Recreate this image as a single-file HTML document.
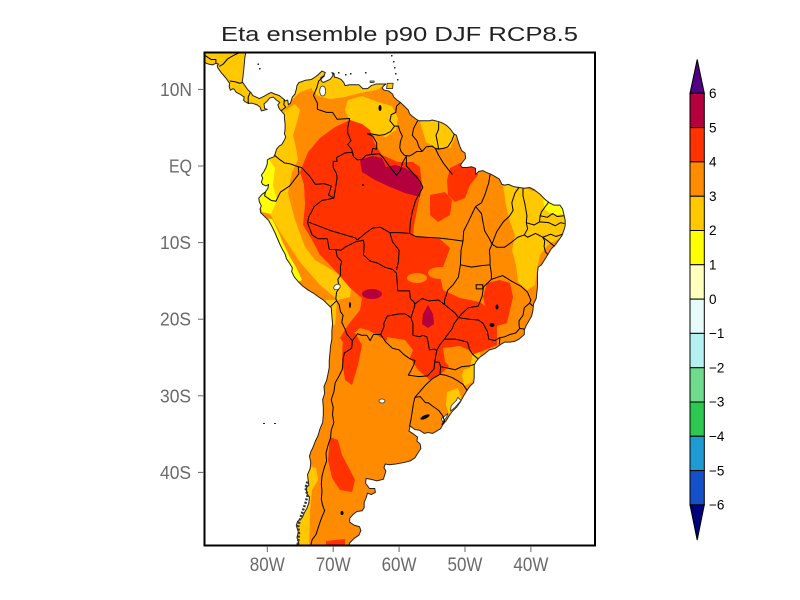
<!DOCTYPE html>
<html><head><meta charset="utf-8">
<style>
html,body{margin:0;padding:0;background:#fff;}
svg{display:block;}
path,polyline,polygon,ellipse,rect{vector-effect:non-scaling-stroke;}
text{font-family:"Liberation Sans",sans-serif;}
</style></head>
<body>
<svg width="800" height="600" viewBox="0 0 800 600" xmlns="http://www.w3.org/2000/svg">
<rect width="800" height="600" fill="#fff"/>
<defs>
<clipPath id="fr"><rect x="205" y="53" width="390" height="492"/></clipPath>
<clipPath id="ld"><path transform="matrix(6.59 0 0 -7.66 794.5 166)" d="M-91,16 L-83.2,16 -83.2,15.0 -83.4,14.2 -83.5,13.2 -83.6,12.4 -83.7,11.6 -83.8,11.0 -83.4,10.5 -83.0,10.0 -82.5,9.6 -82.2,9.2 -81.7,9.0 -81.2,8.8 -80.5,9.1 -79.9,9.4 -79.4,9.6 -78.9,9.4 -78.2,9.2 -77.6,8.8 -77.3,8.5 -76.9,8.6 -76.8,8.0 -76.5,8.2 -76.2,9.0 -75.8,9.4 -75.6,10.0 -75.5,10.5 -75.2,10.9 -74.8,11.0 -74.2,11.2 -73.3,11.3 -72.6,11.7 -72.2,12.0 -71.7,12.4 -71.2,12.2 -71.4,11.8 -71.9,11.5 -71.8,11.1 -71.5,10.9 -71.0,11.1 -70.5,11.3 -70.2,11.6 -70.0,11.9 -70.2,12.2 -69.9,12.1 -69.8,11.6 -69.3,11.5 -68.8,11.3 -68.4,10.9 -68.2,10.5 -67.5,10.6 -66.8,10.6 -66.1,10.6 -65.5,10.1 -64.8,10.1 -64.2,10.5 -63.5,10.7 -62.7,10.7 -62.0,10.7 -62.3,10.5 -62.6,10.2 -62.3,9.9 -61.6,9.8 -61.0,9.4 -60.8,9.0 -60.3,8.6 -59.8,8.3 -59.2,7.8 -58.6,7.3 -58.4,6.8 -58.0,6.5 -57.4,6.1 -57.0,5.9 -56.3,5.9 -55.4,5.9 -55.0,6.0 -54.0,5.8 -53.4,5.6 -52.8,5.3 -52.2,4.8 -51.7,4.2 -51.3,4.0 -51.1,3.4 -50.8,2.6 -50.5,2.0 -50.0,1.7 -49.9,1.0 -50.3,0.6 -50.7,0.1 -50.4,-0.2 -49.7,-0.2 -49.0,-0.1 -48.4,-0.3 -48.4,-1.1 -47.9,-0.7 -47.3,-0.6 -46.6,-0.9 -46.0,-1.1 -45.4,-1.4 -44.8,-1.7 -44.4,-2.4 -44.0,-2.5 -43.4,-2.4 -42.6,-2.7 -41.8,-2.8 -41.0,-2.9 -40.2,-2.8 -39.5,-3.1 -38.6,-3.7 -37.8,-4.4 -37.2,-4.8 -36.5,-5.1 -35.6,-5.1 -35.2,-5.6 -35.0,-6.3 -34.8,-7.1 -34.8,-7.8 -35.0,-8.4 -35.3,-9.1 -35.8,-9.7 -36.3,-10.3 -36.9,-10.8 -37.4,-11.5 -37.9,-12.2 -38.4,-12.9 -38.9,-13.2 -39.0,-14.0 -39.0,-14.8 -39.0,-15.7 -39.1,-16.5 -39.2,-17.3 -39.6,-18.0 -39.7,-18.9 -39.9,-19.6 -40.3,-20.2 -40.7,-20.8 -41.0,-21.4 -41.0,-22.0 -41.8,-22.6 -42.5,-22.9 -43.2,-23.0 -44.0,-23.0 -44.6,-23.3 -45.4,-23.8 -46.3,-24.0 -47.0,-24.5 -47.8,-25.0 -48.3,-25.5 -48.6,-26.0 -48.6,-26.8 -48.6,-27.6 -48.7,-28.3 -49.2,-28.7 -49.7,-29.3 -50.2,-30.0 -50.7,-30.8 -51.3,-31.5 -51.9,-32.0 -52.4,-32.6 -52.9,-33.3 -53.4,-33.8 -53.7,-34.3 -54.3,-34.6 -54.9,-34.9 -55.6,-34.8 -56.2,-34.9 -56.9,-34.5 -57.6,-34.4 -58.1,-34.1 -58.4,-33.9 -58.4,-34.2 -58.5,-34.6 -57.8,-35.0 -57.2,-35.4 -57.3,-35.9 -56.8,-36.3 -56.7,-36.9 -57.1,-37.4 -57.6,-38.1 -58.3,-38.5 -59.2,-38.7 -60.5,-38.9 -61.5,-39.0 -62.1,-38.9 -62.3,-39.4 -62.0,-39.8 -62.2,-40.4 -62.4,-40.9 -63.4,-41.1 -64.3,-40.9 -65.0,-40.8 -65.1,-41.4 -64.5,-42.1 -63.7,-42.1 -63.6,-42.6 -64.2,-42.9 -64.8,-42.7 -65.0,-43.3 -65.3,-43.9 -65.3,-44.6 -65.6,-45.0 -66.4,-45.1 -67.0,-45.5 -67.5,-46.0 -67.5,-46.5 -66.8,-46.9 -66.0,-47.1 -65.8,-47.6 -66.1,-48.2 -66.8,-48.6 -67.5,-49.2 -67.7,-49.8 -68.2,-50.2 -68.8,-51.0 -76,-51 -75.5,-50.0 -75.2,-49.3 -75.5,-48.5 -75.3,-47.8 -75.6,-46.9 -75.4,-46.4 -74.7,-45.9 -74.4,-45.3 -74.0,-44.7 -73.7,-44.0 -73.6,-43.2 -74.0,-42.8 -74.1,-42.0 -73.7,-41.7 -73.8,-41.0 -73.9,-40.3 -73.5,-39.5 -73.4,-38.7 -73.6,-37.9 -73.4,-37.3 -73.1,-36.8 -72.7,-35.9 -72.3,-35.2 -72.0,-34.3 -71.6,-33.5 -71.5,-32.5 -71.5,-31.5 -71.6,-30.5 -71.3,-29.7 -71.4,-28.8 -71.0,-28.0 -70.8,-27.2 -70.6,-26.3 -70.6,-25.4 -70.5,-24.5 -70.4,-23.5 -70.2,-22.6 -70.2,-21.5 -70.1,-20.6 -70.2,-19.6 -70.3,-18.5 -70.9,-18.0 -71.5,-17.5 -72.2,-17.1 -73.0,-16.6 -73.8,-16.2 -74.6,-15.7 -75.3,-15.1 -75.9,-14.5 -76.3,-13.8 -76.2,-13.3 -76.7,-12.6 -77.1,-12.1 -77.3,-11.5 -77.7,-10.9 -78.1,-10.2 -78.5,-9.4 -78.9,-8.6 -79.3,-7.9 -79.8,-7.1 -80.4,-6.6 -81.0,-6.1 -81.1,-5.6 -80.9,-5.2 -81.2,-4.7 -81.3,-4.2 -80.8,-3.7 -80.3,-3.4 -79.9,-2.9 -79.8,-2.4 -80.2,-2.6 -80.7,-2.4 -80.9,-2.1 -80.7,-1.6 -80.9,-1.2 -80.5,-0.7 -80.2,-0.2 -80.0,0.3 -80.0,0.8 -79.6,1.0 -79.0,1.2 -78.8,1.6 -78.6,2.2 -78.2,2.6 -77.8,2.8 -77.4,3.4 -77.2,3.8 -77.4,4.2 -77.3,4.8 -77.3,5.5 -77.4,6.2 -77.4,6.7 -77.9,7.2 -78.2,7.5 -78.4,8.0 -78.1,8.3 -78.6,8.6 -79.1,9.0 -79.6,8.9 -80.1,8.4 -80.5,8.1 -80.4,7.5 -80.0,7.4 -80.4,7.3 -80.9,7.2 -81.1,7.7 -81.6,8.0 -82.3,8.2 -82.9,8.2 -83.4,8.4 -83.6,8.6 -83.5,9.0 -84.2,9.4 -84.7,9.6 -85.0,10.0 -85.2,10.1 -85.6,9.9 -85.8,10.4 -85.7,10.8 -85.9,11.0 -86.2,11.4 -86.6,11.8 -87.0,12.2 -87.5,12.8 -87.6,13.1 -87.4,13.3 -87.8,13.4 -88.3,13.2 -88.9,13.3 -89.5,13.5 -90.2,13.8 -91,13.9 Z"/></clipPath>
</defs>

<g clip-path="url(#fr)">
 <g clip-path="url(#ld)">
  <rect x="195" y="40" width="410" height="520" fill="#ff8c00"/>
  <!-- gold -->
  <g fill="#ffc800">
   <polygon points="195,40 300,40 300,78 318,76 322,84 312,88 300,92 292,100 286,108 280,118 273,128 195,128"/>
   <polygon points="273,125 286,110 295,104 300,110 297,122 293,135 296,148 298,160 292,172 288,193 295,220 305,247 315,260 332,270 352,283 350,297 338,300 320,285 300,262 280,232 265,205 255,180 255,150 265,135"/>
   <polygon points="312,60 390,60 390,84 376,90 360,93 345,97 330,99 318,96 312,90"/>
   <polygon points="348,100 362,96 378,102 392,106 398,118 396,130 386,137 372,134 360,128 350,122 345,110"/>
   <polygon points="420,122 436,118 450,124 456,136 450,148 436,148 426,142"/>
   <polygon points="503,186 515,183 530,190 545,195 560,200 567,212 566,225 560,238 548,245 540,255 537,270 535,285 527,290 518,282 516,265 512,250 515,235 510,222 506,205"/>
   <polygon points="468,350 480,350 480,368 472,382 464,386 462,375 466,362"/>
   <polygon points="447,392 458,388 462,400 458,415 450,418 446,405"/>
   <polygon points="305,465 316,468 318,480 312,490 310,510 309,550 290,550 298,500 302,480"/>
   <polygon points="326,300 337,300 335,325 326,325"/>
  </g>
  <!-- yellow -->
  <g fill="#ffff00">
   <polygon points="256,162 268,158 275,168 273,185 277,200 271,214 262,212 256,190"/>
   <polygon points="263,218 272,219 278,231 283,243 290,257 296,267 302,280 296,283 290,272 284,262 278,248 272,235 264,224"/>
   <polygon points="543,200 556,198 565,205 565,214 555,215 545,210"/>
  </g>
  <!-- red -->
  <g fill="#ff3200">
   <polygon points="300,172 308,152 320,138 335,127 350,120 362,124 370,130 374,142 382,155 398,162 413,162 420,167 422,185 418,205 414,225 413,236 440,239 450,248 445,262 440,275 443,290 460,298 480,302 490,310 497,325 497,345 480,352 462,358 450,365 440,375 430,380 418,370 408,355 395,345 380,337 368,330 360,328 352,335 345,345 340,338 348,325 360,310 362,298 350,288 340,276 330,265 320,255 312,240 303,225 305,205 304,185"/>
   <polygon points="487,283 500,280 510,283 513,297 510,310 507,323 493,327 487,313 483,297"/>
   <polygon points="450,168 462,162 475,165 478,175 470,185 465,198 455,202 448,195 447,180"/>
   <polygon points="430,195 445,192 452,200 450,215 438,222 430,215"/>
   <polygon points="330,437 338,440 342,455 350,470 355,480 352,492 340,490 332,478 328,460"/>
   <polygon points="343,335 355,333 362,345 358,365 352,385 345,380 342,360"/>
   <polygon points="326,541 345,539 345,550 326,550"/>
  </g>
  <!-- orange patches -->
  <g fill="#ff8c00">
   <ellipse cx="417" cy="278" rx="10" ry="5"/>
   <ellipse cx="440" cy="273" rx="12" ry="6"/>
   <polygon points="387,337 405,340 413,350 410,358 398,355 388,347"/>
   <polygon points="443,348 460,346 473,352 470,368 455,372 445,362"/>
  </g>
  <!-- crimson -->
  <g fill="#b4003c">
   <polygon points="360,160 372,156 382,158 386,167 395,165 405,168 418,176 422,185 420,197 405,193 390,187 375,180 362,172"/>
   <ellipse cx="372" cy="294" rx="10" ry="5"/>
   <polygon points="428,305 433,314 434,324 428,328 422,324 423,314"/>
  </g>
 </g>

 <!-- coast and borders -->
 <g transform="matrix(6.59 0 0 -7.66 794.5 166)" fill="none" stroke-linejoin="round">
  <path stroke="#222" stroke-width="1" d="M-91,16 L-83.2,16 -83.2,15.0 -83.4,14.2 -83.5,13.2 -83.6,12.4 -83.7,11.6 -83.8,11.0 -83.4,10.5 -83.0,10.0 -82.5,9.6 -82.2,9.2 -81.7,9.0 -81.2,8.8 -80.5,9.1 -79.9,9.4 -79.4,9.6 -78.9,9.4 -78.2,9.2 -77.6,8.8 -77.3,8.5 -76.9,8.6 -76.8,8.0 -76.5,8.2 -76.2,9.0 -75.8,9.4 -75.6,10.0 -75.5,10.5 -75.2,10.9 -74.8,11.0 -74.2,11.2 -73.3,11.3 -72.6,11.7 -72.2,12.0 -71.7,12.4 -71.2,12.2 -71.4,11.8 -71.9,11.5 -71.8,11.1 -71.5,10.9 -71.0,11.1 -70.5,11.3 -70.2,11.6 -70.0,11.9 -70.2,12.2 -69.9,12.1 -69.8,11.6 -69.3,11.5 -68.8,11.3 -68.4,10.9 -68.2,10.5 -67.5,10.6 -66.8,10.6 -66.1,10.6 -65.5,10.1 -64.8,10.1 -64.2,10.5 -63.5,10.7 -62.7,10.7 -62.0,10.7 -62.3,10.5 -62.6,10.2 -62.3,9.9 -61.6,9.8 -61.0,9.4 -60.8,9.0 -60.3,8.6 -59.8,8.3 -59.2,7.8 -58.6,7.3 -58.4,6.8 -58.0,6.5 -57.4,6.1 -57.0,5.9 -56.3,5.9 -55.4,5.9 -55.0,6.0 -54.0,5.8 -53.4,5.6 -52.8,5.3 -52.2,4.8 -51.7,4.2 -51.3,4.0 -51.1,3.4 -50.8,2.6 -50.5,2.0 -50.0,1.7 -49.9,1.0 -50.3,0.6 -50.7,0.1 -50.4,-0.2 -49.7,-0.2 -49.0,-0.1 -48.4,-0.3 -48.4,-1.1 -47.9,-0.7 -47.3,-0.6 -46.6,-0.9 -46.0,-1.1 -45.4,-1.4 -44.8,-1.7 -44.4,-2.4 -44.0,-2.5 -43.4,-2.4 -42.6,-2.7 -41.8,-2.8 -41.0,-2.9 -40.2,-2.8 -39.5,-3.1 -38.6,-3.7 -37.8,-4.4 -37.2,-4.8 -36.5,-5.1 -35.6,-5.1 -35.2,-5.6 -35.0,-6.3 -34.8,-7.1 -34.8,-7.8 -35.0,-8.4 -35.3,-9.1 -35.8,-9.7 -36.3,-10.3 -36.9,-10.8 -37.4,-11.5 -37.9,-12.2 -38.4,-12.9 -38.9,-13.2 -39.0,-14.0 -39.0,-14.8 -39.0,-15.7 -39.1,-16.5 -39.2,-17.3 -39.6,-18.0 -39.7,-18.9 -39.9,-19.6 -40.3,-20.2 -40.7,-20.8 -41.0,-21.4 -41.0,-22.0 -41.8,-22.6 -42.5,-22.9 -43.2,-23.0 -44.0,-23.0 -44.6,-23.3 -45.4,-23.8 -46.3,-24.0 -47.0,-24.5 -47.8,-25.0 -48.3,-25.5 -48.6,-26.0 -48.6,-26.8 -48.6,-27.6 -48.7,-28.3 -49.2,-28.7 -49.7,-29.3 -50.2,-30.0 -50.7,-30.8 -51.3,-31.5 -51.9,-32.0 -52.4,-32.6 -52.9,-33.3 -53.4,-33.8 -53.7,-34.3 -54.3,-34.6 -54.9,-34.9 -55.6,-34.8 -56.2,-34.9 -56.9,-34.5 -57.6,-34.4 -58.1,-34.1 -58.4,-33.9 -58.4,-34.2 -58.5,-34.6 -57.8,-35.0 -57.2,-35.4 -57.3,-35.9 -56.8,-36.3 -56.7,-36.9 -57.1,-37.4 -57.6,-38.1 -58.3,-38.5 -59.2,-38.7 -60.5,-38.9 -61.5,-39.0 -62.1,-38.9 -62.3,-39.4 -62.0,-39.8 -62.2,-40.4 -62.4,-40.9 -63.4,-41.1 -64.3,-40.9 -65.0,-40.8 -65.1,-41.4 -64.5,-42.1 -63.7,-42.1 -63.6,-42.6 -64.2,-42.9 -64.8,-42.7 -65.0,-43.3 -65.3,-43.9 -65.3,-44.6 -65.6,-45.0 -66.4,-45.1 -67.0,-45.5 -67.5,-46.0 -67.5,-46.5 -66.8,-46.9 -66.0,-47.1 -65.8,-47.6 -66.1,-48.2 -66.8,-48.6 -67.5,-49.2 -67.7,-49.8 -68.2,-50.2 -68.8,-51.0 M-76,-51 L-75.5,-50.0 -75.2,-49.3 -75.5,-48.5 -75.3,-47.8 -75.6,-46.9 -75.4,-46.4 -74.7,-45.9 -74.4,-45.3 -74.0,-44.7 -73.7,-44.0 -73.6,-43.2 -74.0,-42.8 -74.1,-42.0 -73.7,-41.7 -73.8,-41.0 -73.9,-40.3 -73.5,-39.5 -73.4,-38.7 -73.6,-37.9 -73.4,-37.3 -73.1,-36.8 -72.7,-35.9 -72.3,-35.2 -72.0,-34.3 -71.6,-33.5 -71.5,-32.5 -71.5,-31.5 -71.6,-30.5 -71.3,-29.7 -71.4,-28.8 -71.0,-28.0 -70.8,-27.2 -70.6,-26.3 -70.6,-25.4 -70.5,-24.5 -70.4,-23.5 -70.2,-22.6 -70.2,-21.5 -70.1,-20.6 -70.2,-19.6 -70.3,-18.5 -70.9,-18.0 -71.5,-17.5 -72.2,-17.1 -73.0,-16.6 -73.8,-16.2 -74.6,-15.7 -75.3,-15.1 -75.9,-14.5 -76.3,-13.8 -76.2,-13.3 -76.7,-12.6 -77.1,-12.1 -77.3,-11.5 -77.7,-10.9 -78.1,-10.2 -78.5,-9.4 -78.9,-8.6 -79.3,-7.9 -79.8,-7.1 -80.4,-6.6 -81.0,-6.1 -81.1,-5.6 -80.9,-5.2 -81.2,-4.7 -81.3,-4.2 -80.8,-3.7 -80.3,-3.4 -79.9,-2.9 -79.8,-2.4 -80.2,-2.6 -80.7,-2.4 -80.9,-2.1 -80.7,-1.6 -80.9,-1.2 -80.5,-0.7 -80.2,-0.2 -80.0,0.3 -80.0,0.8 -79.6,1.0 -79.0,1.2 -78.8,1.6 -78.6,2.2 -78.2,2.6 -77.8,2.8 -77.4,3.4 -77.2,3.8 -77.4,4.2 -77.3,4.8 -77.3,5.5 -77.4,6.2 -77.4,6.7 -77.9,7.2 -78.2,7.5 -78.4,8.0 -78.1,8.3 -78.6,8.6 -79.1,9.0 -79.6,8.9 -80.1,8.4 -80.5,8.1 -80.4,7.5 -80.0,7.4 -80.4,7.3 -80.9,7.2 -81.1,7.7 -81.6,8.0 -82.3,8.2 -82.9,8.2 -83.4,8.4 -83.6,8.6 -83.5,9.0 -84.2,9.4 -84.7,9.6 -85.0,10.0 -85.2,10.1 -85.6,9.9 -85.8,10.4 -85.7,10.8 -85.9,11.0 -86.2,11.4 -86.6,11.8 -87.0,12.2 -87.5,12.8 -87.6,13.1 -87.4,13.3 -87.8,13.4 -88.3,13.2 -88.9,13.3 -89.5,13.5 -90.2,13.8 -91,13.9"/>
  <!-- Chilean archipelago texture -->
  <polyline stroke="#333" stroke-width="2.5" stroke-dasharray="2,1.5" points="-73.9,-41.2 -74.2,-42.0 -73.9,-43.0 -74.2,-44.0 -74.6,-45.0 -75.0,-46.0 -75.3,-47.0 -75.2,-48.0 -75.3,-49.0 -75.6,-50.5"/>
  <!-- islands -->
  <polygon fill="#ffc800" stroke="#222" stroke-width="0.8" points="-61.9,10.1 -61.0,10.1 -60.9,10.8 -61.8,10.8"/>
  <polygon fill="#ffc800" stroke="#222" stroke-width="0.8" points="-64.4,10.9 -63.8,10.9 -63.8,11.1 -64.4,11.1"/>
  <!-- lagoons -->
  <polygon fill="#fff" stroke="#333" stroke-width="0.8" points="-51.1,-30.2 -50.6,-30.6 -51.5,-31.5 -52.2,-32.0 -52.1,-31.3 -51.3,-30.6"/>
  <polygon fill="#fff" stroke="#333" stroke-width="0.8" points="-52.6,-32.3 -53.6,-33.0 -53.4,-33.4 -52.8,-32.8"/>

  <g stroke="#000" stroke-width="1">
   <polyline points="-71.3,11.8 -72.2,11.1 -72.5,10.2 -73.0,9.2 -72.4,8.2 -72.4,7.4 -71.0,7.0 -70.1,7.0 -69.4,6.1 -67.5,6.2 -67.8,5.0 -67.8,4.3 -67.3,3.3 -67.8,2.8 -67.2,2.2 -66.9,1.2"/>
   <polyline points="-66.9,1.2 -66.3,0.8 -65.6,0.9 -65.0,1.4 -64.2,1.5 -64.0,2.3 -63.4,2.2 -63.4,3.0 -64.0,3.9 -64.8,4.2 -64.2,4.2 -63.0,4.0 -62.2,4.1 -61.3,4.5 -60.7,5.2"/>
   <polyline points="-60.7,5.2 -61.4,5.9 -61.2,6.7 -60.5,7.0 -60.4,7.8 -59.8,8.3"/>
   <polyline points="-66.9,1.2 -67.1,1.8 -68.2,1.7 -69.5,1.1 -69.4,0.6 -70.0,0.6 -70.0,-0.2 -69.5,-1.0 -69.4,-1.5 -69.9,-4.2"/>
   <polyline points="-69.9,-4.2 -70.7,-3.8 -70.3,-2.6 -71.4,-2.3 -72.7,-2.4 -73.6,-1.3 -74.8,-0.2 -75.3,-0.1"/>
   <polyline points="-75.3,-0.1 -76.6,0.3 -77.4,0.4 -78.2,0.9 -78.9,1.4"/>
   <polyline points="-75.3,-0.1 -75.2,-1.0 -76.6,-2.6 -78.0,-3.4 -78.7,-4.6 -79.4,-4.5 -80.4,-3.9 -80.3,-3.4"/>
   <polyline points="-69.9,-4.2 -71.7,-4.5 -72.9,-5.3 -73.3,-6.0 -73.7,-6.6 -73.9,-7.4 -73.2,-9.0 -72.3,-9.5 -70.9,-9.5 -70.6,-10.9 -69.6,-10.9"/>
   <polyline points="-69.6,-10.9 -68.8,-11.0 -68.2,-10.6 -67.3,-10.2 -66.6,-9.9 -65.4,-9.7 -65.3,-10.4 -65.4,-11.6 -64.4,-12.4 -63.2,-12.7 -62.2,-13.2 -61.0,-13.5 -60.4,-14.0 -60.3,-15.1 -60.2,-16.3 -58.4,-16.3 -58.3,-17.3 -57.7,-17.8 -57.6,-18.2 -58.2,-19.8"/>
   <polyline points="-69.6,-10.9 -69.4,-11.8 -68.7,-12.5 -68.9,-13.0 -68.9,-14.3 -69.3,-14.8 -69.2,-15.3 -69.0,-15.8 -69.5,-16.5 -69.6,-17.3 -69.5,-17.6 -70.4,-18.35"/>
   <polyline points="-69.5,-17.6 -69.1,-18.1 -68.9,-19.0 -68.5,-19.5 -68.7,-20.4 -68.2,-21.3 -67.9,-22.0 -67.1,-22.8"/>
   <polyline points="-67.1,-22.8 -66.3,-21.9 -65.7,-22.1 -64.9,-22.1 -64.4,-22.8 -63.9,-22.0 -62.8,-22.0"/>
   <polyline points="-62.8,-22.0 -62.3,-21.0 -62.3,-20.5 -61.8,-19.6 -60.0,-19.3 -59.1,-19.3 -58.2,-19.8"/>
   <polyline points="-58.2,-19.8 -57.9,-20.6 -57.9,-22.1 -56.9,-22.3 -56.4,-22.1 -55.8,-22.3 -55.6,-23.0 -55.4,-24.0 -54.6,-23.9 -54.3,-24.1 -54.6,-25.6"/>
   <polyline points="-62.8,-22.0 -62.0,-23.0 -61.0,-23.8 -60.0,-24.0 -59.3,-24.6 -58.3,-25.2 -57.6,-25.4 -57.8,-26.0 -58.2,-26.7 -58.6,-27.3 -57.0,-27.5 -55.7,-27.4 -54.7,-26.5 -54.6,-25.6"/>
   <polyline points="-54.6,-25.6 -53.9,-25.6 -53.7,-26.2 -53.8,-27.2 -55.0,-27.8 -56.0,-28.6 -57.2,-29.8 -57.6,-30.2"/>
   <polyline points="-57.6,-30.2 -57.8,-30.9 -58.0,-32.0 -58.2,-33.1 -58.4,-33.9"/>
   <polyline points="-57.6,-30.2 -56.8,-30.1 -56.0,-30.9 -55.6,-30.9 -55.0,-31.3 -54.0,-31.9 -53.4,-32.6 -53.1,-33.3 -53.5,-33.7 -53.4,-33.8"/>
   <polyline points="-67.1,-22.8 -67.2,-23.8 -68.3,-24.4 -68.5,-25.2 -68.6,-26.5 -69.1,-27.4 -69.7,-28.3 -69.9,-29.5 -70.3,-30.5 -70.0,-31.5 -70.1,-32.5 -69.9,-33.5 -70.3,-34.5 -70.4,-35.5 -70.8,-36.5 -71.1,-37.5 -71.0,-38.5 -71.4,-39.5 -71.7,-40.5 -71.8,-41.5 -71.7,-42.5 -71.8,-43.5 -71.6,-44.3 -71.3,-45.0 -71.7,-45.8 -72.0,-46.5 -72.3,-47.3 -72.6,-48.1 -73.2,-48.8 -73.4,-49.5 -73.3,-50.5"/>
   <polyline points="-60.7,5.2 -60.1,5.2 -59.9,4.6 -59.5,3.9 -59.8,3.2 -59.9,2.4 -59.7,1.9 -59.2,1.4 -58.5,1.3 -58.0,1.5 -57.3,1.9 -56.5,1.9"/>
   <polyline points="-56.5,1.9 -57.0,2.5 -57.3,3.3 -58.0,4.0 -57.8,4.9 -57.2,5.9"/>
   <polyline points="-56.5,1.9 -55.9,2.5 -55.0,2.6 -54.5,2.3 -54.0,2.2"/>
   <polyline points="-54.0,2.2 -54.2,3.2 -54.4,4.0 -54.0,4.8 -54.0,5.7"/>
   <polyline points="-54.0,2.2 -53.3,2.3 -52.6,2.5 -52.0,3.3 -51.6,4.2"/>
   <polyline points="-85.7,11.1 -84.9,11.0 -84.2,10.8 -83.7,10.9"/>
   <polyline points="-82.6,9.6 -82.9,9.0 -82.9,8.1"/>
   <polyline points="-77.4,8.7 -77.5,8.0 -77.2,7.7 -77.9,7.2"/>
   <polyline points="-87.3,13.0 -86.7,13.3 -86.0,14.0 -85.2,14.4 -84.5,14.7 -83.2,15.0"/>
   <polyline points="-89.4,14.4 -88.5,13.9 -87.8,13.9 -87.8,13.4"/>
   <polyline points="-64.2,1.5 -63.0,1.6 -62.5,1.2 -62.0,0.6 -61.5,0.0 -60.4,-1.2 -59.8,-0.6 -59.5,0.4 -58.9,1.3"/>
   <polyline points="-58.9,1.3 -58.9,0.0 -57.8,-1.0 -56.8,-2.0 -56.4,-2.8 -57.5,-4.5 -58.0,-6.0 -58.3,-7.4 -58.4,-8.8"/>
   <polyline points="-73.8,-7.3 -70.5,-8.4 -66.6,-9.4 -66.4,-9.7"/>
   <polyline points="-66.4,-9.7 -65.0,-8.7 -64.0,-8.1 -62.8,-8.0 -61.4,-8.7 -60.0,-8.7 -58.4,-8.8"/>
   <polyline points="-58.4,-8.8 -57.5,-9.2 -56.0,-9.3 -54.0,-9.4 -52.0,-9.6 -50.3,-9.8"/>
   <polyline points="-61.4,-8.7 -61.0,-9.9 -60.0,-11.0 -60.1,-12.5 -60.4,-13.6"/>
   <polyline points="-50.3,-9.8 -50.2,-8.5 -49.5,-7.3 -48.9,-6.2 -48.4,-5.3"/>
   <polyline points="-48.4,-5.3 -47.5,-4.8 -47.0,-3.8 -46.4,-2.2 -46.2,-1.1"/>
   <polyline points="-48.4,-5.3 -47.5,-6.2 -47.3,-7.2 -47.0,-8.5 -46.3,-9.5 -45.9,-10.2"/>
   <polyline points="-41.8,-2.8 -42.4,-3.5 -42.9,-4.8 -42.7,-5.8 -43.3,-6.6 -44.2,-7.3 -45.2,-8.6 -45.9,-10.2"/>
   <polyline points="-41.2,-2.9 -41.2,-3.9 -40.9,-5.0 -40.6,-6.5 -40.7,-7.4"/>
   <polyline points="-45.9,-10.2 -45.2,-10.6 -44.0,-10.6 -43.0,-10.0 -42.0,-9.3 -41.0,-9.0"/>
   <polyline points="-40.7,-7.4 -40.5,-8.2 -41.0,-9.0"/>
   <polyline points="-37.3,-4.7 -37.9,-5.4 -38.4,-6.0 -38.6,-6.5 -38.7,-7.3"/>
   <polyline points="-38.7,-7.3 -39.5,-7.7 -40.7,-7.4"/>
   <polyline points="-35.0,-6.5 -36.0,-6.6 -36.7,-6.2 -37.5,-6.7 -38.6,-6.5"/>
   <polyline points="-34.9,-7.5 -35.5,-7.4 -36.3,-7.8 -37.3,-7.4 -38.7,-7.3"/>
   <polyline points="-35.2,-8.9 -36.2,-9.2 -37.0,-8.9 -38.2,-9.3"/>
   <polyline points="-38.2,-9.3 -39.3,-8.8 -40.5,-9.3 -41.0,-9.0"/>
   <polyline points="-36.4,-10.5 -37.4,-9.8 -38.2,-9.3"/>
   <polyline points="-37.4,-11.6 -37.8,-11.2 -38.0,-10.5 -37.9,-9.8 -38.2,-9.3"/>
   <polyline points="-45.9,-10.2 -46.3,-11.0 -46.2,-12.0 -46.2,-12.9"/>
   <polyline points="-50.7,-12.9 -49.0,-13.2 -47.5,-13.0 -46.2,-12.9"/>
   <polyline points="-50.3,-9.8 -50.6,-11.0 -50.7,-12.9"/>
   <polyline points="-50.7,-12.9 -51.0,-14.5 -51.8,-15.5 -52.6,-16.2 -53.1,-17.5 -53.1,-18.1"/>
   <polyline points="-53.1,-18.1 -54.0,-17.5 -55.5,-17.6 -56.5,-17.3 -57.6,-18.0"/>
   <polyline points="-53.1,-18.1 -51.5,-19.2 -51.0,-19.8"/>
   <polyline points="-46.2,-12.9 -46.0,-14.0 -46.0,-14.8"/>
   <polyline points="-46.0,-14.8 -47.2,-15.8 -47.4,-17.0 -48.0,-18.3 -49.5,-18.5 -50.5,-19.3 -51.0,-19.8"/>
   <polyline points="-46.0,-14.8 -44.3,-14.3 -43.0,-15.0 -41.5,-15.7 -40.5,-16.5 -40.0,-17.5 -40.2,-17.9 -39.7,-18.3"/>
   <polyline points="-40.2,-17.9 -41.0,-18.5 -41.2,-19.5 -41.8,-20.2 -41.8,-20.8 -41.7,-21.2 -41.0,-21.3"/>
   <polyline points="-41.7,-21.2 -42.3,-21.8 -43.2,-22.0 -44.0,-22.3 -44.7,-22.4 -44.8,-23.3"/>
   <polyline points="-44.7,-22.4 -45.5,-22.8 -46.4,-22.6 -46.6,-21.6 -47.3,-20.5 -48.0,-20.1 -49.3,-20.0 -50.2,-19.9 -51.0,-19.8"/>
   <polyline points="-51.0,-19.8 -51.6,-20.5 -52.0,-21.3 -52.8,-22.2 -53.1,-22.6"/>
   <polyline points="-48.0,-25.2 -48.8,-24.6 -49.3,-24.0 -49.6,-23.0 -50.5,-22.8 -51.5,-22.6 -52.2,-22.6 -53.1,-22.6"/>
   <polyline points="-53.1,-22.6 -53.8,-23.3 -54.3,-24.1"/>
   <polyline points="-48.6,-25.9 -49.3,-26.1 -50.5,-26.2 -51.5,-26.6 -52.5,-26.4 -53.7,-26.2"/>
   <polyline points="-49.7,-29.3 -50.3,-28.5 -51.2,-28.0 -52.0,-27.6 -53.0,-27.3 -53.8,-27.2"/>
   <polyline points="-54.5,2.3 -54.0,1.4 -53.3,0.4 -52.5,-0.5 -51.9,-1.1"/>
  </g>
 </g>

 <ellipse cx="322.7" cy="91" rx="3" ry="5" fill="#fff" stroke="#333" stroke-width="0.8"/>
 <ellipse cx="337" cy="287" rx="3.5" ry="2.5" fill="#fff" stroke="#333" stroke-width="0.8" transform="rotate(-30 337 287)"/>
 <ellipse cx="382" cy="401" rx="3" ry="2" fill="#fff" stroke="#333" stroke-width="0.8"/>
 <ellipse cx="425" cy="417" rx="5" ry="1.8" fill="#000" transform="rotate(-25 425 417)"/>
 <ellipse cx="380" cy="108" rx="1.5" ry="3" fill="#000"/>
 <ellipse cx="497" cy="307" rx="1.5" ry="2.5" fill="#000"/>
 <ellipse cx="492" cy="325" rx="2.5" ry="2" fill="#000"/>
 <ellipse cx="363" cy="185" rx="1" ry="1" fill="#000"/>
 <ellipse cx="342" cy="513" rx="1.5" ry="2" fill="#000"/>
 <ellipse cx="350" cy="305" rx="1" ry="3" fill="#000"/>
 <rect x="476.2" y="284.7" width="6.6" height="4.2" fill="none" stroke="#000" stroke-width="1"/>
 <g fill="#222">
  <rect x="257.5" y="63.5" width="1.5" height="1.5"/><rect x="259" y="68" width="1.5" height="1.5"/>
  <rect x="333" y="73" width="1.5" height="1.5"/><rect x="338" y="72" width="1.5" height="1.5"/>
  <rect x="345" y="74" width="1.5" height="1.5"/><rect x="350" y="73" width="1.5" height="1.5"/>
  <rect x="365" y="72" width="1.5" height="1.5"/>
  <rect x="391" y="55" width="1.5" height="1.5"/><rect x="393" y="61" width="1.5" height="1.5"/>
  <rect x="394" y="67" width="1.5" height="1.5"/><rect x="395" y="73" width="1.5" height="1.5"/>
  <rect x="397" y="79" width="1.5" height="1.5"/><rect x="263" y="423" width="2" height="1"/>
  <rect x="274" y="423" width="2" height="1"/>
 </g>
</g>

<rect x="204.5" y="52.5" width="390.5" height="493" fill="none" stroke="#000" stroke-width="2"/>

<g stroke="#666" stroke-width="1">
 <line x1="198" y1="89.4" x2="204" y2="89.4"/>
 <line x1="198" y1="166" x2="204" y2="166"/>
 <line x1="198" y1="242.6" x2="204" y2="242.6"/>
 <line x1="198" y1="319.2" x2="204" y2="319.2"/>
 <line x1="198" y1="395.8" x2="204" y2="395.8"/>
 <line x1="198" y1="472.4" x2="204" y2="472.4"/>
 <line x1="267.3" y1="546" x2="267.3" y2="552"/>
 <line x1="333.2" y1="546" x2="333.2" y2="552"/>
 <line x1="399.1" y1="546" x2="399.1" y2="552"/>
 <line x1="465" y1="546" x2="465" y2="552"/>
 <line x1="530.9" y1="546" x2="530.9" y2="552"/>
</g>
<g fill="#6a6a6a" font-size="18" text-anchor="end">
 <text x="192" y="95.8" textLength="32" lengthAdjust="spacingAndGlyphs">10N</text>
 <text x="192" y="172.5" textLength="23" lengthAdjust="spacingAndGlyphs">EQ</text>
 <text x="191" y="249" textLength="31" lengthAdjust="spacingAndGlyphs">10S</text>
 <text x="191" y="325.7" textLength="31" lengthAdjust="spacingAndGlyphs">20S</text>
 <text x="191" y="402.3" textLength="31" lengthAdjust="spacingAndGlyphs">30S</text>
 <text x="191" y="478.9" textLength="31" lengthAdjust="spacingAndGlyphs">40S</text>
</g>
<g fill="#6a6a6a" font-size="19" text-anchor="middle">
 <text x="267.3" y="571" textLength="35" lengthAdjust="spacingAndGlyphs">80W</text>
 <text x="333.2" y="571" textLength="35" lengthAdjust="spacingAndGlyphs">70W</text>
 <text x="399.1" y="571" textLength="35" lengthAdjust="spacingAndGlyphs">60W</text>
 <text x="465" y="571" textLength="35" lengthAdjust="spacingAndGlyphs">50W</text>
 <text x="530.9" y="571" textLength="35" lengthAdjust="spacingAndGlyphs">40W</text>
</g>

<text x="399.5" y="41" font-size="20.5" fill="#222" text-anchor="middle" textLength="357" lengthAdjust="spacingAndGlyphs">Eta ensemble p90 DJF RCP8.5</text>

<g stroke="#000" stroke-width="1">
 <polygon points="690,93.3 704.3,93.3 697.2,59.5" fill="#500082"/>
 <rect x="690" y="93.3" width="14.3" height="34.3" fill="#b4003c"/>
 <rect x="690" y="127.6" width="14.3" height="34.3" fill="#ff3200"/>
 <rect x="690" y="161.9" width="14.3" height="34.3" fill="#ff8c00"/>
 <rect x="690" y="196.2" width="14.3" height="34.3" fill="#ffc800"/>
 <rect x="690" y="230.5" width="14.3" height="34.3" fill="#ffff00"/>
 <rect x="690" y="264.8" width="14.3" height="34.3" fill="#ffffbe"/>
 <rect x="690" y="299.1" width="14.3" height="34.3" fill="#e6fafa"/>
 <rect x="690" y="333.4" width="14.3" height="34.3" fill="#b4f0f0"/>
 <rect x="690" y="367.7" width="14.3" height="34.3" fill="#6edc8c"/>
 <rect x="690" y="402" width="14.3" height="34.3" fill="#2dc850"/>
 <rect x="690" y="436.3" width="14.3" height="34.3" fill="#1e9bd2"/>
 <rect x="690" y="470.6" width="14.3" height="34.3" fill="#1450c8"/>
 <polygon points="690,504.9 704.3,504.9 697.2,540" fill="#00007d"/>
</g>
<g fill="#000" font-size="13.5">
 <text x="709" y="98">6</text>
 <text x="709" y="132.3">5</text>
 <text x="709" y="166.6">4</text>
 <text x="709" y="200.9">3</text>
 <text x="709" y="235.2">2</text>
 <text x="709" y="269.5">1</text>
 <text x="709" y="303.8">0</text>
 <text x="709" y="338.1">−1</text>
 <text x="709" y="372.4">−2</text>
 <text x="709" y="406.7">−3</text>
 <text x="709" y="441">−4</text>
 <text x="709" y="475.3">−5</text>
 <text x="709" y="509.6">−6</text>
</g>
</svg>
</body></html>
